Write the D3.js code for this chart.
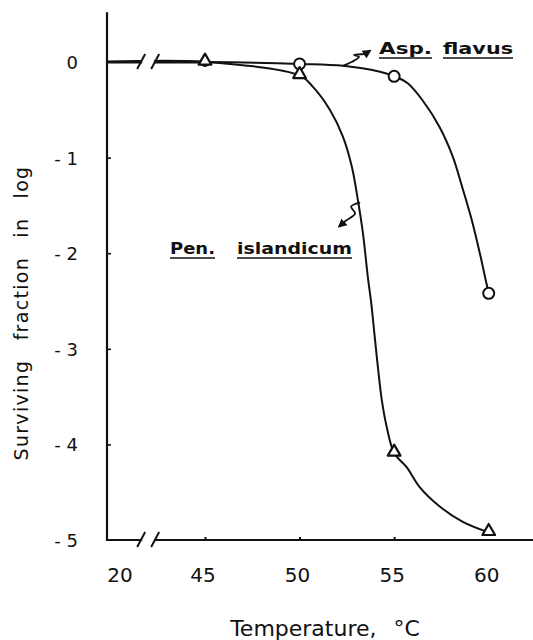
<!DOCTYPE html>
<html>
<head>
<meta charset="utf-8">
<script src="https://cdn.jsdelivr.net/npm/d3@7"></script>
<style>
  body { margin: 0; background: #fff; }
  text { font-family: "DejaVu Sans", sans-serif; fill: #111; }
</style>
</head>
<body>
<svg id="chart" width="533" height="640"></svg>
<script>
// ---------------------- Data ----------------------
const temps = [20, 45, 50, 55, 60];
const aspFlavus = [0, 0, -0.02, -0.15, -2.42];
const penIslandicum = [0, 0, -0.14, -4.09, -4.92];

// hand drawn fitted curves: [temp, log fraction]
const aspCurve = [[52.3, -0.04], [54.2, -0.10], [55.7, -0.22], [56.5, -0.40], [57.4, -0.68],
  [58.1, -0.99], [58.6, -1.31], [59.1, -1.65], [59.53, -2.0], [59.84, -2.28]];
const penCurve = [[50.71, -0.26], [51.6, -0.50], [52.29, -0.78], [52.77, -1.10], [53.08, -1.44],
  [53.35, -1.79], [53.61, -2.25], [53.8, -2.54], [53.96, -2.85], [54.14, -3.19], [54.35, -3.54],
  [54.61, -3.82], [55.67, -4.24], [56.36, -4.45], [57.41, -4.65], [58.63, -4.81]];

const xTicks = [20, 45, 50, 55, 60];
const yTicks = [0, -1, -2, -3, -4, -5];
const breakAt = 30.5;

// ---------------------- Scales ----------------------
const svg = d3.select('#chart');
const ink = '#111';

const x = d3.scaleLinear().domain([20, 45, 62.5]).range([107, 205, 536]);
const y = d3.scaleLinear().domain([-5, 0]).range([540, 62]);

const line = d3.line().x(d => x(d[0])).y(d => y(d[1])).curve(d3.curveCatmullRom.alpha(0.5));

function series(vals, curve) {
  return temps.map((t, i) => [t, vals[i]]).concat(curve).sort((a, b) => a[0] - b[0]);
}

// ---------------------- Axes ----------------------
const x0 = x(20), yBottom = y(-5), yTop = y(0.52);

svg.append('line')
  .attr('x1', x0).attr('x2', x0).attr('y1', yTop).attr('y2', yBottom + 1)
  .attr('stroke', ink).attr('stroke-width', 2.2);

svg.append('line')
  .attr('x1', x0).attr('x2', 533).attr('y1', yBottom).attr('y2', yBottom)
  .attr('stroke', ink).attr('stroke-width', 2);

svg.append('g')
  .attr('transform', `translate(${x0},0)`)
  .call(d3.axisRight(y).tickValues([-1, -2, -3, -4]).tickSize(4).tickFormat(''))
  .call(g => g.select('.domain').remove())
  .call(g => g.selectAll('.tick line').attr('stroke', ink).attr('stroke-width', 1.6));

svg.append('g')
  .attr('transform', `translate(0,${yBottom})`)
  .call(d3.axisTop(x).tickValues([45, 50, 55]).tickSize(3).tickFormat(''))
  .call(g => g.select('.domain').remove())
  .call(g => g.selectAll('.tick line').attr('stroke', ink).attr('stroke-width', 2));

svg.append('g').selectAll('text')
  .data(yTicks)
  .join('text')
  .attr('x', 78)
  .attr('y', d => y(d) + 7)
  .attr('text-anchor', 'end')
  .attr('font-size', 18)
  .text(d => d === 0 ? '0' : '- ' + (-d));

svg.append('g').selectAll('text')
  .data(xTicks)
  .join('text')
  .attr('x', d => d === 20 ? x(d) + 13 : x(d) - 2)
  .attr('y', 582)
  .attr('text-anchor', 'middle')
  .attr('font-size', 20)
  .text(d => d);

svg.append('text')
  .attr('transform', 'translate(28,313) rotate(-90)')
  .attr('text-anchor', 'middle')
  .attr('font-size', 19)
  .attr('letter-spacing', 1.3)
  .attr('word-spacing', 12)
  .text('Surviving fraction in log');

svg.append('text')
  .attr('x', 325).attr('y', 636)
  .attr('text-anchor', 'middle')
  .attr('font-size', 22)
  .attr('word-spacing', 10)
  .text('Temperature, °C');

// ---------------------- Curves ----------------------
svg.append('path')
  .attr('d', line(series(aspFlavus, aspCurve)))
  .attr('fill', 'none').attr('stroke', ink).attr('stroke-width', 2);

svg.append('path')
  .attr('d', line(series(penIslandicum, penCurve)))
  .attr('fill', 'none').attr('stroke', ink).attr('stroke-width', 2);

// thicker lead-in along zero
svg.append('path')
  .attr('d', d3.line().x(d => x(d)).y(y(0))([20, 45]))
  .attr('stroke', ink).attr('stroke-width', 2.8);

// ---------------------- Axis breaks ----------------------
function drawBreak(cx, cy) {
  svg.append('rect')
    .attr('x', cx - 6).attr('y', cy - 3).attr('width', 12).attr('height', 6)
    .attr('fill', '#fff');
  [-7, 7].forEach(dx => {
    svg.append('line')
      .attr('x1', cx + dx - 4).attr('y1', cy + 7)
      .attr('x2', cx + dx + 4).attr('y2', cy - 8)
      .attr('stroke', ink).attr('stroke-width', 2);
  });
}
drawBreak(x(breakAt), y(0));
drawBreak(x(breakAt), yBottom);

// ---------------------- Markers ----------------------
const aspPts = temps.map((t, i) => [t, aspFlavus[i]]);
const penPts = temps.map((t, i) => [t, penIslandicum[i]]);

svg.append('g').selectAll('circle')
  .data(aspPts.filter(d => d[0] > 20))
  .join('circle')
  .attr('cx', d => x(d[0]))
  .attr('cy', d => y(d[1]))
  .attr('r', d => d[0] === 45 ? 4 : 5.5)
  .attr('fill', '#fff').attr('stroke', ink).attr('stroke-width', 2);

svg.append('g').selectAll('path')
  .data(penPts.filter(d => d[0] > 20))
  .join('path')
  .attr('transform', d => `translate(${x(d[0])},${y(d[1]) - 1})`)
  .attr('d', d3.symbol(d3.symbolTriangle, 70))
  .attr('fill', '#fff').attr('stroke', ink).attr('stroke-width', 2.2)
  .attr('stroke-linejoin', 'round');

// ---------------------- Labels & arrows ----------------------
svg.append('defs').append('marker')
  .attr('id', 'head')
  .attr('viewBox', '0 0 10 10').attr('refX', 8).attr('refY', 5)
  .attr('markerWidth', 5).attr('markerHeight', 5)
  .attr('orient', 'auto-start-reverse')
  .append('path').attr('d', 'M0,0L10,5L0,10z').attr('fill', ink);

const squiggle = d3.line().curve(d3.curveCatmullRom);

const aspAnchor = [x(52.3), y(-0.04)];
svg.append('path')
  .attr('d', squiggle([[0, 0], [9, -4], [16, -9], [11, -11], [21, -12], [27, -15]]
    .map(p => [aspAnchor[0] + p[0], aspAnchor[1] + p[1]])))
  .attr('fill', 'none').attr('stroke', ink).attr('stroke-width', 1.8)
  .attr('marker-end', 'url(#head)');

const penAnchor = [x(53.2), y(-1.47)];
svg.append('path')
  .attr('d', squiggle([[0, 0], [-9, 4], [-5, 11], [-14, 18], [-21, 24]]
    .map(p => [penAnchor[0] + p[0], penAnchor[1] + p[1]])))
  .attr('fill', 'none').attr('stroke', ink).attr('stroke-width', 1.8)
  .attr('marker-end', 'url(#head)');

function label(word, x1, x2, base) {
  svg.append('text')
    .attr('x', x1).attr('y', base)
    .attr('font-size', 15).attr('font-weight', 'bold')
    .attr('textLength', x2 - x1).attr('lengthAdjust', 'spacingAndGlyphs')
    .text(word);
  svg.append('line')
    .attr('x1', x1).attr('x2', x2).attr('y1', base + 4).attr('y2', base + 4)
    .attr('stroke', ink).attr('stroke-width', 1.6);
}
label('Asp.', 379, 432, 54);
label('flavus', 443, 513, 54);
label('Pen.', 170, 215, 254);
label('islandicum', 237, 352, 254);
</script>
</body>
</html>
